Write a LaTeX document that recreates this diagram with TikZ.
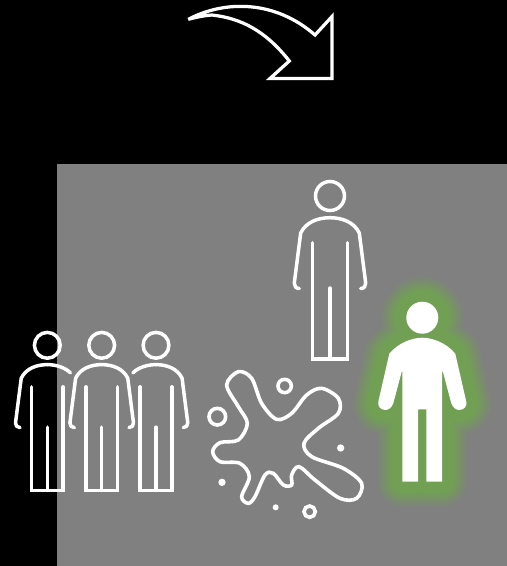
\documentclass[tikz,border=0pt]{standalone}
\usepackage{xcolor}
\usepackage{tikz}
\definecolor{panegray}{HTML}{808080}
\definecolor{glowgreen}{HTML}{71A055}
\tikzset{
  iconline/.style={draw=white, line width=0.07cm, line cap=round, line join=miter},
  splatline/.style={draw=white, line width=0.072cm},
  personbody/.pic={
    \draw[iconline] (0,0) circle[radius=14.5];
    \draw[iconline] (-17.7,46.7) -- (-17.7,163) -- (17.7,163) -- (17.7,46.7);
    \draw[iconline] (0,92) -- (0,163);
  },
  leftarm/.pic={
    \draw[iconline, line join=round] (0,21.7) .. controls (-12,21.7) and (-24,26) .. (-29.3,37) -- (-35.7,87) .. controls (-36,90) and (-34,92.5) .. (-30.7,92.5);
  },
  rightarm/.pic={
    \draw[iconline, line join=round] (0,21.7) .. controls (12,21.7) and (24,26) .. (29.3,37) -- (35.7,87) .. controls (36,90) and (34,92.5) .. (30.7,92.5);
  },
  leftstub/.pic={
    \draw[iconline] (0,21.7) .. controls (-10,21.7) and (-20,25) .. (-26,31);
  },
  rightstub/.pic={
    \draw[iconline] (0,21.7) .. controls (10,21.7) and (20,25) .. (26,31);
  }
}
\newcommand{\manshape}{(0,0) circle[radius=16]
  (-4.2,91.6) -- (-4.2,164) -- (-19.8,164) -- (-19.8,54) -- (-20.6,54) -- (-29,85.6)
  .. controls (-30.5,90) and (-34,92.3) .. (-37,92.3) .. controls (-42,92.3) and (-45,88) .. (-44,84)
  -- (-33,36) .. controls (-24,25) and (-10,20) .. (0,20) .. controls (10,20) and (24,25) .. (33,36)
  -- (44,84) .. controls (45,88) and (42,92.3) .. (37,92.3) .. controls (34,92.3) and (30.5,90) .. (29,85.6)
  -- (20.6,54) -- (19.8,54) -- (19.8,164) -- (4.2,164) -- (4.2,91.6) -- cycle}
\begin{document}
\begin{tikzpicture}[x=0.02cm, y=-0.02cm]
\useasboundingbox (0,0) rectangle (507,566);
\fill[black] (0,0) rectangle (507,566);
\fill[panegray] (57,164) rectangle (507,566);
% curved arrow
\draw[draw=white, line width=0.065cm, line join=miter, miter limit=4] (188.3,19.3) .. controls (225,0) and (275,0) .. (315,35) -- (332,16.5) -- (332,78.5) -- (270,78.5) -- (289.3,61) .. controls (265,30) and (240,18) .. (211.7,15) .. controls (205,15.5) and (197,17) .. cycle;
% people
\pic at (330,196) {personbody};
\pic at (330,196) {leftarm};
\pic at (330,196) {rightarm};
\foreach \px in {47.3,101.7,156} {
  \pic[scale=0.89] at (\px,345.3) {personbody};
}
\pic[scale=0.89] at (47.3,345.3) {leftarm};
\pic[scale=0.89] at (47.3,345.3) {rightstub};
\pic[scale=0.89] at (101.7,345.3) {leftarm};
\pic[scale=0.89] at (101.7,345.3) {rightarm};
\pic[scale=0.89] at (156,345.3) {leftstub};
\pic[scale=0.89] at (156,345.3) {rightarm};
% splat
\begin{scope}[shift={(200,360)}, scale=0.3333]
\draw[splatline] plot[smooth cycle, tension=0.55] coordinates {(80,75) (115,35) (155,55) (185,130) (230,178) (275,160) (320,105) (365,85) (415,115) (415,160) (355,205) (312,250) (335,290) (430,325) (485,370) (470,415) (420,415) (345,360) (297,320) (275,345) (275,375) (250,375) (220,340) (195,345) (165,410) (145,430) (125,410) (148,350) (120,310) (60,305) (38,275) (60,248) (115,240) (142,190) (115,140)};
\draw[splatline] (52,170) circle[radius=25];
\draw[splatline] (254,78) circle[radius=20];
\draw[splatline] (329,455) circle[radius=17];
\fill[white] (422,264) circle[radius=11];
\fill[white] (66,367) circle[radius=11];
\fill[white] (227,442) circle[radius=9];
\end{scope}
% glowing man
\begin{scope}[shift={(422.3,317.7)}]
\foreach \d in {27,26,...,11} {
  \pgfmathsetmacro{\mix}{min(100,(27-\d)/16*100)}
  \draw[draw=glowgreen!\mix!panegray, fill=glowgreen!\mix!panegray, line join=round, line width=\d*0.04cm] \manshape;
}
\fill[white] \manshape;
\end{scope}
\end{tikzpicture}
\end{document}
